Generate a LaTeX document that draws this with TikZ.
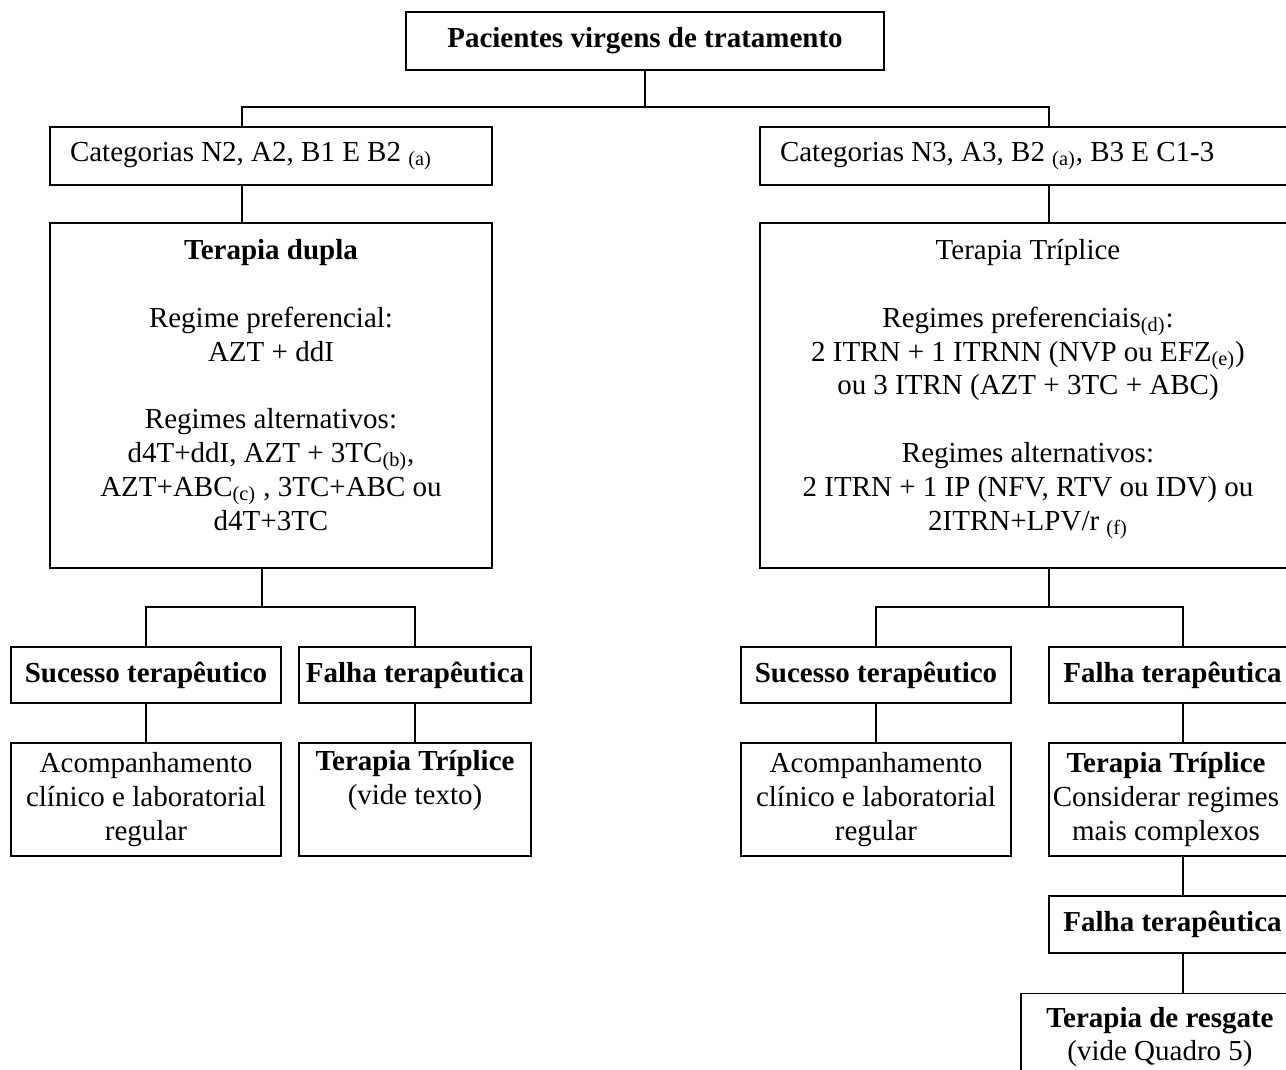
\documentclass[tikz,border=0pt]{standalone}
\usepackage{fontspec}
\setmainfont{Liberation Serif}

\tikzset{
  box/.style={draw, line width=0.9pt, inner sep=0pt, align=center,
    font=\fontsize{14.5pt}{16.9pt}\selectfont},
  txt/.style={inner sep=0pt, align=center, font=\fontsize{14.5pt}{16.9pt}\selectfont},
  catbox/.style={box, align=flush left, inner xsep=10pt, minimum height=29pt},
  link/.style={line width=0.9pt},
}

\begin{document}
\begin{tikzpicture}[x=0.5pt, y=-0.5pt]
    \useasboundingbox (0,0) rectangle (1286,1070);
    % Top and categories
    \node[box, minimum width=239pt, minimum height=29pt] (pac) at (645,41) {\textbf{Pacientes virgens de tratamento}};
    \node[catbox, text width=201pt] (catL) at (271,156) {Categorias N2, A2, B1 E B2 \textsubscript{(a)}};
    \node[catbox, text width=248pt] (catR) at (1028,156) {Categorias N3, A3, B2 \textsubscript{(a)}, B3 E C1-3};
    % Therapy boxes
    \node[box, minimum width=221pt, minimum height=172.5pt] (dupla) at (271,395.5) {};
    \node[txt, anchor=north] (duplaT) at ([yshift=-8.5pt]dupla.north) {\textbf{Terapia dupla}\\[16.9pt]
        Regime preferencial:\\AZT + ddI\\[16.9pt]
        Regimes alternativos:\\d4T+ddI, AZT + 3TC\textsubscript{(b)},\\
        AZT+ABC\textsubscript{(c)} , 3TC+ABC ou\\d4T+3TC};
    \node[box, minimum width=268pt, minimum height=172.5pt] (tripl) at (1028,395.5) {};
    \node[txt, anchor=north] (triplT) at ([yshift=-8.5pt]tripl.north) {Terapia Tríplice\\[16.9pt]
        Regimes preferenciais\textsubscript{(d)}:\\2 ITRN + 1 ITRNN (NVP ou EFZ\textsubscript{(e)})\\
        ou 3 ITRN (AZT + 3TC + ABC)\\[16.9pt]
        Regimes alternativos:\\2 ITRN + 1 IP (NFV, RTV ou IDV) ou\\2ITRN+LPV/r \textsubscript{(f)}};
    % Outcomes
    \node[box, minimum width=135pt, minimum height=28pt] (sucL) at (146,675) {\textbf{Sucesso terapêutico}};
    \node[box, minimum width=116pt, minimum height=28pt] (falL) at (415,675) {\textbf{Falha terapêutica}};
    \node[box, minimum width=135pt, minimum height=28pt] (sucR) at (876,675) {\textbf{Sucesso terapêutico}};
    \node[box, minimum width=123.5pt, minimum height=28pt] (falR) at (1172.5,675) {\textbf{Falha terapêutica}};
    \node[box, minimum width=135pt, minimum height=56.5pt] (acompL) at (146,799.5) {Acompanhamento\\clínico e laboratorial\\regular};
    \node[box, minimum width=116pt, minimum height=56.5pt] (tripL) at (415,799.5) {\textbf{Terapia Tríplice}\\(vide texto)\\\strut};
    \node[box, minimum width=135pt, minimum height=56.5pt] (acompR) at (876,799.5) {Acompanhamento\\clínico e laboratorial\\regular};
    \node[box, minimum width=123.5pt, minimum height=56.5pt] (tripR) at (1172.5,799.5) {};
    \node[txt] (tripRT) at (1166,799.5) {\textbf{Terapia Tríplice}\\Considerar regimes\\mais complexos};
    \node[box, minimum width=123.5pt, minimum height=28.5pt] (fal3) at (1172.5,924.5) {\textbf{Falha terapêutica}};
    \node[box, minimum width=139pt, minimum height=43.5pt] (resg) at (1160,1037) {\textbf{Terapia de resgate}\\(vide Quadro 5)};
    % Junctions
    \coordinate (jL) at (242,107);
    \coordinate (jR) at (1049,107);
    \coordinate (kL) at (262,607);
    \coordinate (kR) at (1183,607);
    % Connectors
    \draw[link] (pac.south) -- (pac.south |- jL);
    \draw[link] (jL |- catL.north) -- (jL) -- (jR) -- (jR |- catR.north);
    \draw[link] (jL |- catL.south) -- (jL |- dupla.north);
    \draw[link] (jR |- catR.south) -- (jR |- tripl.north);
    \draw[link] (kL |- dupla.south) -- (kL);
    \draw[link] (sucL.north) -- (sucL.north |- kL) -- (falL.north |- kL) -- (falL.north);
    \draw[link] (jR |- tripl.south) -- (jR |- kR);
    \draw[link] (sucR.north) -- (sucR.north |- kR) -- (kR) -- (kR |- falR.north);
    \foreach \a/\b in {sucL/acompL, falL/tripL, sucR/acompR}
        \draw[link] (\a) -- (\b);
    \draw[link] (kR |- falR.south) -- (kR |- tripR.north);
    \draw[link] (kR |- tripR.south) -- (kR |- fal3.north);
    \draw[link] (kR |- fal3.south) -- (kR |- resg.north);
\end{tikzpicture}
\end{document}
